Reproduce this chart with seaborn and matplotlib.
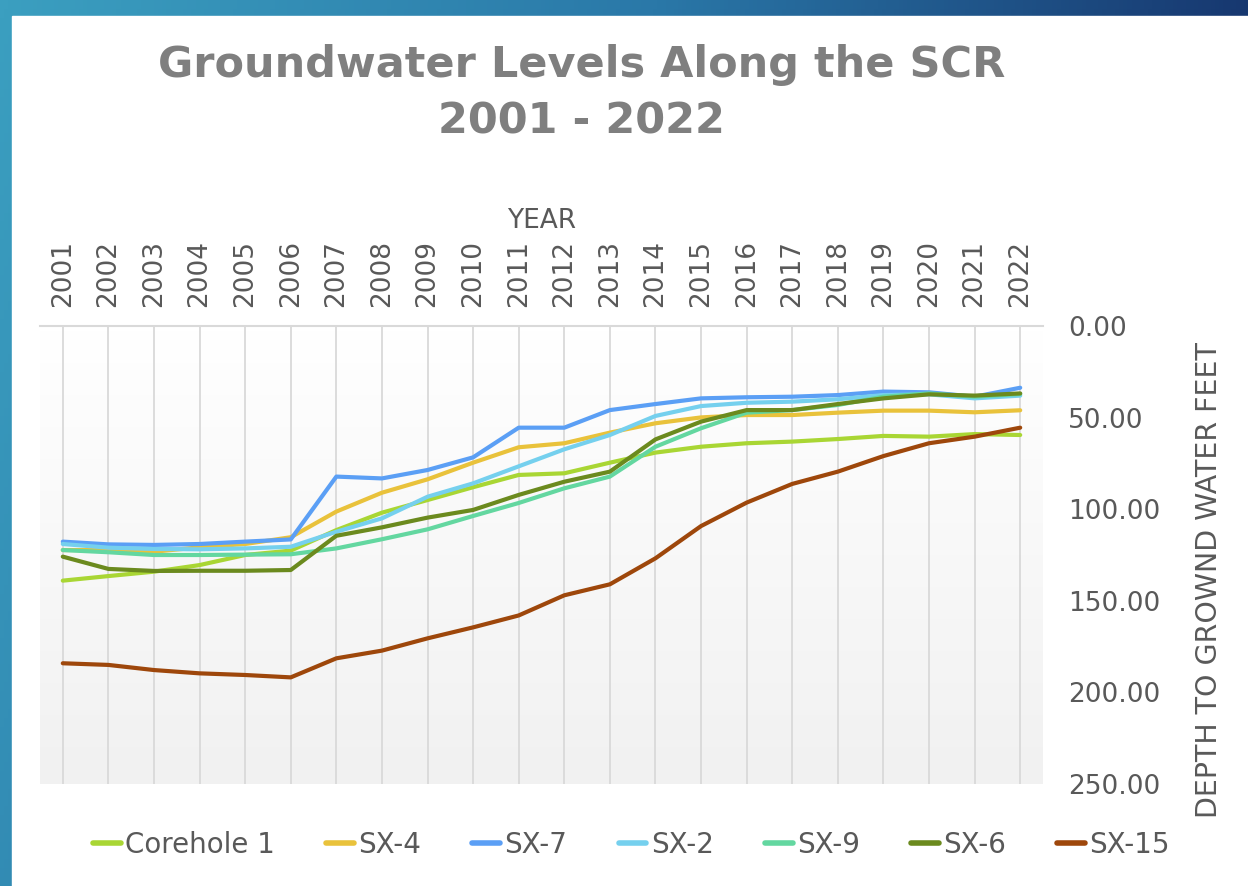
import numpy as np
import pandas as pd
import seaborn as sns
import matplotlib.pyplot as plt
from matplotlib import ticker
from matplotlib.colors import LinearSegmentedColormap
from matplotlib.patches import Rectangle

sns.set_theme(style="white")
plt.rcParams["font.family"] = ["DejaVu Sans"]

# Data (depth to groundwater, feet)
years = list(range(2001, 2023))
wells = ["Corehole 1", "SX-4", "SX-7", "SX-2", "SX-9", "SX-6", "SX-15"]
corehole_1 = [139.0, 136.5, 134.1, 130.5, 125.0, 122.6, 111.4, 101.9, 95.0, 88.0, 81.3,
              80.4, 74.6, 69.1, 65.9, 64.0, 63.1, 61.7, 60.0, 60.4, 59.0, 59.5]
sx_4 = [122.3, 122.3, 123.2, 120.8, 119.0, 115.3, 101.3, 91.0, 83.7, 74.6, 66.2,
        64.0, 58.2, 53.1, 49.9, 48.6, 48.6, 47.3, 46.2, 46.2, 47.1, 46.0]
sx_7 = [117.7, 119.2, 119.5, 119.0, 117.7, 116.5, 82.2, 83.2, 78.6, 71.7, 55.5,
        55.5, 45.9, 42.6, 39.5, 38.9, 38.6, 37.7, 35.8, 36.2, 38.6, 33.7]
sx_2 = [119.0, 121.0, 121.7, 121.9, 121.4, 120.5, 112.3, 105.0, 93.2, 85.9, 76.6,
        67.3, 59.5, 49.1, 43.7, 41.9, 41.3, 40.0, 37.7, 37.3, 39.5, 38.0]
sx_9 = [122.3, 123.5, 125.0, 125.0, 124.8, 124.6, 121.4, 116.4, 111.0, 103.7, 96.6,
        88.6, 82.2, 65.9, 55.8, 47.3, 45.9, 43.1, 38.6, 36.8, 38.6, 37.1]
sx_6 = [125.9, 132.6, 133.7, 133.6, 133.6, 133.2, 114.5, 109.9, 104.6, 100.4, 92.2,
        85.0, 79.5, 61.9, 52.2, 45.9, 45.9, 42.6, 39.5, 37.3, 38.0, 36.8]
sx_15 = [184.1, 185.0, 187.8, 189.6, 190.5, 191.8, 181.4, 177.2, 170.5, 164.5, 158.0,
         147.0, 141.0, 126.8, 109.2, 96.4, 86.2, 79.5, 71.0, 64.0, 60.4, 55.5]
colors = ["#a9d634", "#e9c23b", "#5b9ff5", "#75d0ee", "#63d7a0", "#6b8a1e", "#9e470b"]

series = [corehole_1, sx_4, sx_7, sx_2, sx_9, sx_6, sx_15]
df = pd.concat([pd.DataFrame({"year": years, "depth": vals, "well": name})
                for name, vals in zip(wells, series)], ignore_index=True)

TXT = "#595959"
W, H = 1248, 886

fig = plt.figure(figsize=(W / 100, H / 100), dpi=100)

# slide background: blue strip on left/top
bg = fig.add_axes([0, 0, 1, 1], zorder=-10)
gx = np.linspace(0, 1, 300)[None, :]
gy = np.linspace(0, 1, 100)[:, None]
grad = np.clip(gx * 0.95 + gy * 0.25, 0, 1)
slide_cmap = LinearSegmentedColormap.from_list("slide", ["#3b9fc0", "#2a78a8", "#15316a"])
bg.imshow(grad, cmap=slide_cmap, extent=(0, 1, 0, 1), aspect="auto")
bg.add_patch(Rectangle((12 / W, 0), 1, 1 - 16 / H, color="white", transform=bg.transAxes))
bg.set_xlim(0, 1)
bg.set_ylim(0, 1)
bg.axis("off")

ax = fig.add_axes([40 / W, (H - 784) / H, 1003 / W, 458 / H])

# plot area gradient
plot_cmap = LinearSegmentedColormap.from_list("plot", ["#ffffff", "#f1f1f1"])
ax.imshow(np.linspace(0, 1, 100)[:, None], cmap=plot_cmap, extent=(0, 1, 0, 1),
          transform=ax.transAxes, aspect="auto", zorder=0)

sns.lineplot(data=df, x="year", y="depth", hue="well", hue_order=wells,
             palette=colors, linewidth=3.0, ax=ax, zorder=3)

ax.set_xlim(2000.5, 2022.5)
ax.set_ylim(250, 0)
ax.set_xticks(years)
ax.set_xticklabels([str(y) for y in years], rotation=90)
ax.xaxis.tick_top()
ax.xaxis.set_label_position("top")
ax.set_xlabel("YEAR", fontsize=19, color=TXT, labelpad=8)

ax.yaxis.tick_right()
ax.set_yticks([0, 50, 100, 150, 200, 250])
ax.yaxis.set_major_formatter(ticker.StrMethodFormatter("{x:.2f}"))
ax.set_ylabel("DEPTH TO GROWND WATER FEET", fontsize=20.5, color=TXT)
ax.yaxis.set_label_position("right")
ax.yaxis.set_label_coords(1.152, 0.445)

ax.tick_params(axis="x", length=0, pad=14, labelsize=19, labelcolor=TXT)
ax.tick_params(axis="y", length=0, pad=18, labelsize=19, labelcolor=TXT)

ax.grid(axis="x", color="#d9d9d9", linewidth=1.3)
ax.grid(axis="y", visible=False)
for side in ["left", "right", "bottom"]:
    ax.spines[side].set_visible(False)
ax.spines["top"].set_color("#d9d9d9")
ax.spines["top"].set_linewidth(1.5)

handles, labels = ax.get_legend_handles_labels()
ax.legend_.remove()
leg = fig.legend(handles, labels, loc="center", bbox_to_anchor=(0.506, 1 - 845 / H), ncol=7,
                 frameon=False, fontsize=20, labelcolor=TXT, handlelength=1.0,
                 handletextpad=0.15, columnspacing=1.85)
for line in leg.get_lines():
    line.set_linewidth(4)
    line.set_solid_capstyle("round")

fig.text(0.466, 1 - 65 / H, "Groundwater Levels Along the SCR", ha="center", va="center",
         fontsize=31, fontweight="bold", color="#7f7f7f")
fig.text(0.466, 1 - 122 / H, "2001 - 2022", ha="center", va="center",
         fontsize=31, fontweight="bold", color="#7f7f7f")

fig.savefig("out.png", dpi=100)
